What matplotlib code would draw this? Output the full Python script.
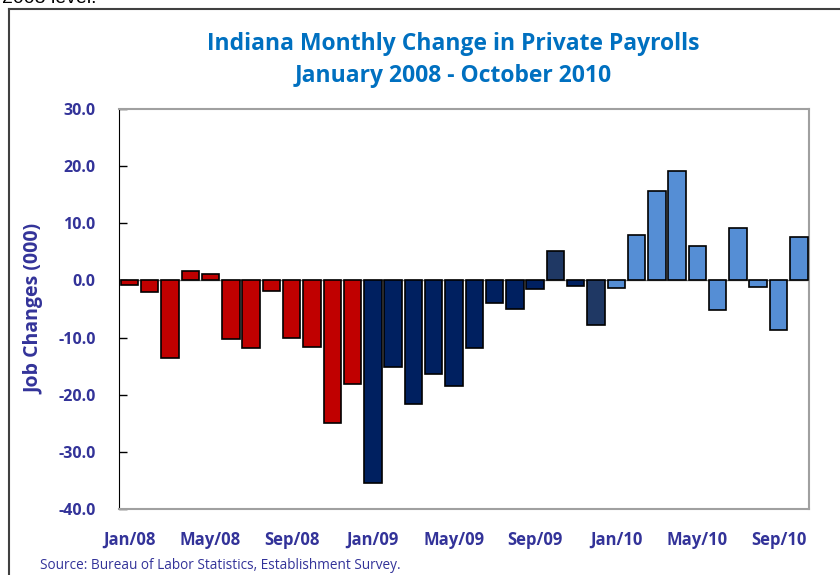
import numpy as np
import matplotlib.pyplot as plt
from matplotlib.lines import Line2D

# monthly change in private payrolls, thousands (Jan 2008 - Oct 2010)
months = ['Jan/08', 'Feb/08', 'Mar/08', 'Apr/08', 'May/08', 'Jun/08', 'Jul/08', 'Aug/08',
          'Sep/08', 'Oct/08', 'Nov/08', 'Dec/08',
          'Jan/09', 'Feb/09', 'Mar/09', 'Apr/09', 'May/09', 'Jun/09', 'Jul/09', 'Aug/09',
          'Sep/09', 'Oct/09', 'Nov/09', 'Dec/09',
          'Jan/10', 'Feb/10', 'Mar/10', 'Apr/10', 'May/10', 'Jun/10', 'Jul/10', 'Aug/10',
          'Sep/10', 'Oct/10']
changes = [-0.8, -2.1, -13.5, 1.7, 1.1, -10.3, -11.8, -1.9, -10.0, -11.7, -25.0, -18.1,
           -35.4, -15.1, -21.7, -16.4, -18.5, -11.9, -4.0, -5.0, -1.5, 5.2, -0.9, -7.8,
           -1.3, 8.0, 15.7, 19.1, 6.1, -5.2, 9.2, -1.2, -8.6, 7.6]
# colour group of each bar
groups = ['2008'] * 12 + ['2009'] * 9 + ['late09', '2009', 'late09'] + ['2010'] * 10
group_colors = {'2008': '#C00000', '2009': '#002060', 'late09': '#1F3864', '2010': '#558ED5'}

label_col = '#333399'
plt.rcParams['font.family'] = ['Open Sans', 'DejaVu Sans']

fig = plt.figure(figsize=(8.4, 5.75), dpi=100)
ax = fig.add_axes([0.142, 0.1148, 0.821, 0.6956])

x = np.arange(len(changes))
ax.bar(x, changes, width=0.86, color=[group_colors[g] for g in groups],
       edgecolor='black', linewidth=1.2, zorder=3)
ax.axhline(0, color='#808080', linewidth=1, zorder=2)

ax.set_xlim(-0.5, len(changes) - 0.5)
ax.set_ylim(-40, 30)
ax.set_yticks(np.arange(-40, 31, 10))
ax.set_yticklabels(['%.1f' % v for v in np.arange(-40, 31, 10)],
                   fontsize=11.5, fontweight='bold', color=label_col)
ax.tick_params(axis='y', direction='in', length=6, width=1, pad=17)
ax.set_xticks(x[::4])
ax.set_xticklabels(months[::4], fontsize=12, fontweight='bold', color=label_col)
ax.tick_params(axis='x', length=0, pad=16)

for s in ['top', 'right', 'bottom']:
    ax.spines[s].set_color('#A0A0A0')
    ax.spines[s].set_linewidth(1.5)
ax.spines['left'].set_color('black')

ax.set_ylabel('Job Changes (000)', fontsize=14, fontweight='bold', color=label_col, labelpad=10)

fig.text(0.54, 0.923, 'Indiana Monthly Change in Private Payrolls', ha='center', va='center',
         fontsize=16.5, fontweight='bold', color='#0070C0')
fig.text(0.54, 0.868, 'January 2008 - October 2010', ha='center', va='center',
         fontsize=16.5, fontweight='bold', color='#0070C0')
fig.text(0.048, 0.017, 'Source: Bureau of Labor Statistics, Establishment Survey.',
         fontsize=9.8, color=label_col, va='center')

# partial text from the page above the chart
fig.text(0.115, 1.003, '2008 level.', ha='right', va='center', fontsize=14,
         family=['Liberation Sans'], color='black')

# chart area border
fig.add_artist(Line2D([0.0107, 0.0107], [0, 0.984], transform=fig.transFigure,
                      color='#404040', linewidth=1.5))
fig.add_artist(Line2D([0.0107, 1.0], [0.984, 0.984], transform=fig.transFigure,
                      color='#404040', linewidth=1.5))

plt.savefig('out.png', dpi=100)
